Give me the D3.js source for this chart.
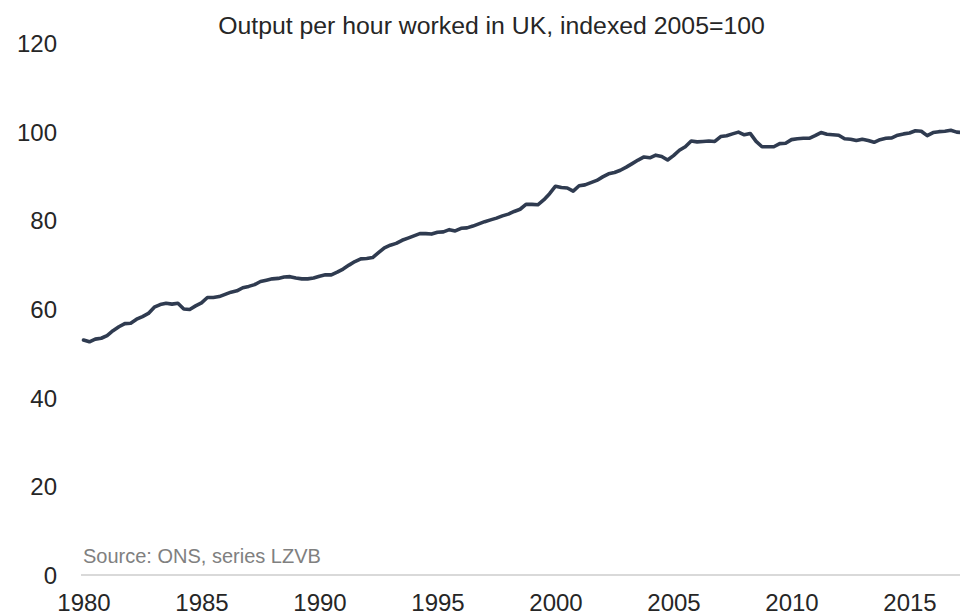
<!DOCTYPE html>
<html>
<head>
<meta charset="utf-8">
<script src="https://cdn.jsdelivr.net/npm/d3@7"></script>
<style>
  html, body { margin: 0; padding: 0; background: #fff; }
  svg { display: block; }
  text { font-family: "Liberation Sans", Arial, sans-serif; }
</style>
</head>
<body>
<svg id="chart" width="960" height="615"></svg>
<script>
// ---- Data ----
const title = "Output per hour worked in UK, indexed 2005=100";
const sourceNote = "Source: ONS, series LZVB";
const startYear = 1980;            // first quarter is 1980 Q1
const quartersPerYear = 4;
const values = [
  53.0, 52.6, 53.2, 53.4,   // 1980
  54.0, 55.1, 56.0, 56.7,   // 1981
  56.8, 57.7, 58.3, 59.0,   // 1982
  60.4, 61.0, 61.3, 61.1,   // 1983
  61.3, 60.0, 59.9, 60.7,   // 1984
  61.4, 62.6, 62.6, 62.8,   // 1985
  63.3, 63.8, 64.1, 64.8,   // 1986
  65.1, 65.5, 66.2, 66.5,   // 1987
  66.8, 66.9, 67.2, 67.3,   // 1988
  67.0, 66.8, 66.8, 67.0,   // 1989
  67.4, 67.7, 67.7, 68.3,   // 1990
  69.0, 69.9, 70.7, 71.3,   // 1991
  71.4, 71.6, 72.7, 73.8,   // 1992
  74.4, 74.8, 75.5, 76.0,   // 1993
  76.5, 77.0, 77.0, 76.9,   // 1994
  77.3, 77.4, 77.9, 77.6,   // 1995
  78.2, 78.3, 78.7, 79.2,   // 1996
  79.7, 80.1, 80.5, 81.0,   // 1997
  81.4, 82.0, 82.5, 83.6,   // 1998
  83.6, 83.5, 84.6, 86.0,   // 1999
  87.7, 87.4, 87.3, 86.6,   // 2000
  87.8, 88.0, 88.5, 89.0,   // 2001
  89.8, 90.5, 90.8, 91.3,   // 2002
  92.0, 92.8, 93.6, 94.3,   // 2003
  94.1, 94.7, 94.4, 93.6,   // 2004
  94.6, 95.8, 96.6, 97.9,   // 2005
  97.7, 97.8, 97.9, 97.8,   // 2006
  98.9, 99.1, 99.5, 99.9,   // 2007
  99.3, 99.6, 97.8, 96.6,   // 2008
  96.6, 96.6, 97.3, 97.4,   // 2009
  98.2, 98.4, 98.5, 98.5,   // 2010
  99.1, 99.8, 99.4, 99.3,   // 2011
  99.2, 98.4, 98.3, 98.0,   // 2012
  98.3, 98.0, 97.6, 98.2,   // 2013
  98.5, 98.6, 99.2, 99.5,   // 2014
  99.7, 100.2, 100.1, 99.1, // 2015
  99.8, 100.0, 100.1, 100.3,// 2016
  99.9, 99.8                // 2017
];
const yTicks = [0, 20, 40, 60, 80, 100, 120];
const xTicks = [1980, 1985, 1990, 1995, 2000, 2005, 2010, 2015];

// ---- Layout ----
const svg = d3.select("#chart");
const W = 960, H = 615;

const series = values.map((v, i) => ({ t: startYear + i / quartersPerYear, v }));
const tEnd = series[series.length - 1].t;

const x = d3.scaleLinear().domain([startYear, tEnd]).range([83.5, 962.6]);
const y = d3.scaleLinear().domain([0, 120]).range([575, 43]);

// Title
svg.append("text")
  .attr("x", 491.5).attr("y", 34)
  .attr("text-anchor", "middle")
  .attr("font-size", 24.8)
  .attr("fill", "#262626")
  .text(title);

// Y axis labels (no line)
const yAxis = d3.axisLeft(y).tickValues(yTicks).tickSize(0).tickPadding(0);
const gy = svg.append("g").attr("transform", "translate(57,0)").call(yAxis);
gy.select(".domain").remove();
gy.selectAll("text")
  .attr("font-size", 24)
  .attr("font-family", "Liberation Sans, Arial, sans-serif")
  .attr("fill", "#262626")
  .attr("dy", "0.36em");

// X axis baseline
svg.append("line")
  .attr("x1", 81).attr("x2", W)
  .attr("y1", y(0)).attr("y2", y(0))
  .attr("stroke", "#d9d9d9").attr("stroke-width", 2);

// X axis labels
const xAxis = d3.axisBottom(x).tickValues(xTicks).tickFormat(d3.format("d")).tickSize(0).tickPadding(0);
const gx = svg.append("g").attr("transform", `translate(0,${y(0)})`).call(xAxis);
gx.select(".domain").remove();
gx.selectAll("text")
  .attr("font-size", 24)
  .attr("font-family", "Liberation Sans, Arial, sans-serif")
  .attr("fill", "#262626")
  .attr("dy", null)
  .attr("y", 36);

// Source note
svg.append("text")
  .attr("x", 83).attr("y", 563)
  .attr("font-size", 20)
  .attr("fill", "#808080")
  .text(sourceNote);

// Line
const line = d3.line().x(d => x(d.t)).y(d => y(d.v));
svg.append("path")
  .datum(series)
  .attr("d", line)
  .attr("fill", "none")
  .attr("stroke", "#2f3b50")
  .attr("stroke-width", 3.6)
  .attr("stroke-linejoin", "round")
  .attr("stroke-linecap", "round");
</script>
</body>
</html>
